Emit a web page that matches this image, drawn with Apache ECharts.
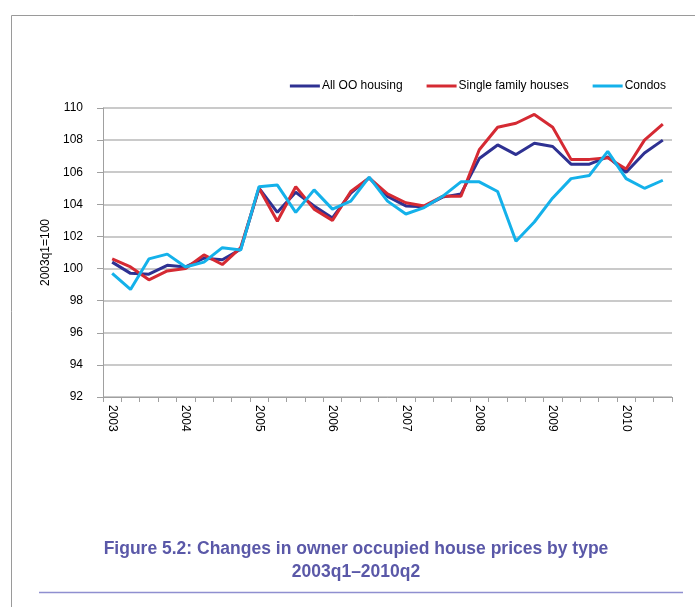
<!DOCTYPE html>
<html>
<head>
<meta charset="utf-8">
<script src="https://cdn.jsdelivr.net/npm/echarts@6/dist/echarts.min.js"></script>
<style>
  html, body { margin: 0; padding: 0; background: #fff; }
  #chart { width: 695px; height: 607px; }
</style>
</head>
<body>
<div id="chart"></div>
<script>
// quarters 2003q1 .. 2010q3
var quarters = []
for (var y = 2003; y <= 2010; y++) {
  for (var q = 1; q <= 4; q++) {
    if (y === 2010 && q === 4) break
    quarters.push(y + 'q' + q)
  }
}

var allOO = [100.4, 99.7, 99.65, 100.2, 100.1, 100.65, 100.55, 101.2, 105.0, 103.5,
  104.75, 103.9, 103.15, 104.7, 105.65, 104.5, 103.9, 103.85, 104.45, 104.65,
  106.85, 107.7, 107.1, 107.8, 107.6, 106.5, 106.5, 106.95, 106.0, 107.2, 108.0]

var singleFamily = [100.6, 100.1, 99.3, 99.85, 100.0, 100.85, 100.25, 101.3, 105.0, 102.95,
  105.1, 103.7, 103.0, 104.8, 105.65, 104.65, 104.1, 103.9, 104.5, 104.5,
  107.4, 108.8, 109.05, 109.6, 108.8, 106.8, 106.8, 106.9, 106.2, 108.0, 109.0]

var condos = [99.7, 98.7, 100.6, 100.9, 100.1, 100.4, 101.3, 101.15, 105.1, 105.2,
  103.5, 104.9, 103.7, 104.2, 105.7, 104.2, 103.4, 103.8, 104.5, 105.4,
  105.4, 104.8, 101.7, 102.9, 104.4, 105.6, 105.8, 107.3, 105.6, 105.0, 105.5]

var seriesNames = ['All OO housing', 'Single family houses', 'Condos']
var colors = ['#2e3192', '#d52a33', '#14b1ea']

var font = '"Liberation Sans", Arial, sans-serif'

var myChart = echarts.init(document.getElementById('chart'))

function lineSeries (name, data, color) {
  return {
    name: name,
    type: 'line',
    data: data,
    symbol: 'none',
    smooth: false,
    lineStyle: { width: 3, color: color },
    itemStyle: { color: color }
  }
}

var option = {
  backgroundColor: '#fff',
  animation: false,
  textStyle: { fontFamily: font },
  legend: {
    data: seriesNames,
    icon: 'rect',
    right: 24,
    top: 75,
    itemWidth: 30,
    itemHeight: 3,
    itemGap: 24,
    textStyle: { fontSize: 12, color: '#000', fontFamily: font, padding: [0, 0, 0, -3] }
  },
  grid: {
    left: 103,
    right: 23,
    top: 108,
    bottom: 210
  },
  xAxis: {
    type: 'category',
    data: quarters,
    boundaryGap: true,
    axisLine: { lineStyle: { color: '#a0a0a0', width: 1 } },
    axisTick: { show: true, interval: 0, length: 5, lineStyle: { color: '#a0a0a0' } },
    axisLabel: {
      interval: 0,
      rotate: -90,
      margin: 8,
      fontSize: 12,
      color: '#000',
      fontFamily: font,
      formatter: function (v) {
        return v.slice(-2) === 'q1' ? v.slice(0, 4) : ''
      }
    },
    splitLine: { show: false }
  },
  yAxis: {
    type: 'value',
    min: 92,
    max: 110,
    interval: 2,
    name: '2003q1=100',
    nameLocation: 'middle',
    nameRotate: 90,
    nameGap: 50,
    nameTextStyle: { fontSize: 12, color: '#000', fontFamily: font },
    axisLine: { show: true, lineStyle: { color: '#a0a0a0', width: 1 } },
    axisTick: { show: true, length: 6, lineStyle: { color: '#a0a0a0' } },
    axisLabel: { margin: 20, fontSize: 12, color: '#000', fontFamily: font },
    splitLine: { show: true, lineStyle: { color: '#b8b8b8', width: 1.5 } }
  },
  series: [
    lineSeries(seriesNames[0], allOO, colors[0]),
    lineSeries(seriesNames[1], singleFamily, colors[1]),
    lineSeries(seriesNames[2], condos, colors[2])
  ],
  graphic: [
    // page frame
    { type: 'line', shape: { x1: 11.5, y1: 15.5, x2: 695, y2: 15.5 }, style: { stroke: '#9a9a9a', lineWidth: 1 }, silent: true },
    { type: 'line', shape: { x1: 11.5, y1: 15.5, x2: 11.5, y2: 607 }, style: { stroke: '#9a9a9a', lineWidth: 1 }, silent: true },
    // caption
    {
      type: 'text',
      x: 356,
      y: 538,
      style: {
        text: 'Figure 5.2: Changes in owner occupied house prices by type\n2003q1\u20132010q2',
        fill: '#5a58a8',
        font: 'bold 17.5px ' + font,
        textAlign: 'center',
        lineHeight: 23
      }
    },
    { type: 'line', shape: { x1: 39, y1: 592.5, x2: 683, y2: 592.5 }, style: { stroke: '#8f8fd0', lineWidth: 1.5 }, silent: true }
  ]
}

myChart.setOption(option)
</script>
</body>
</html>
